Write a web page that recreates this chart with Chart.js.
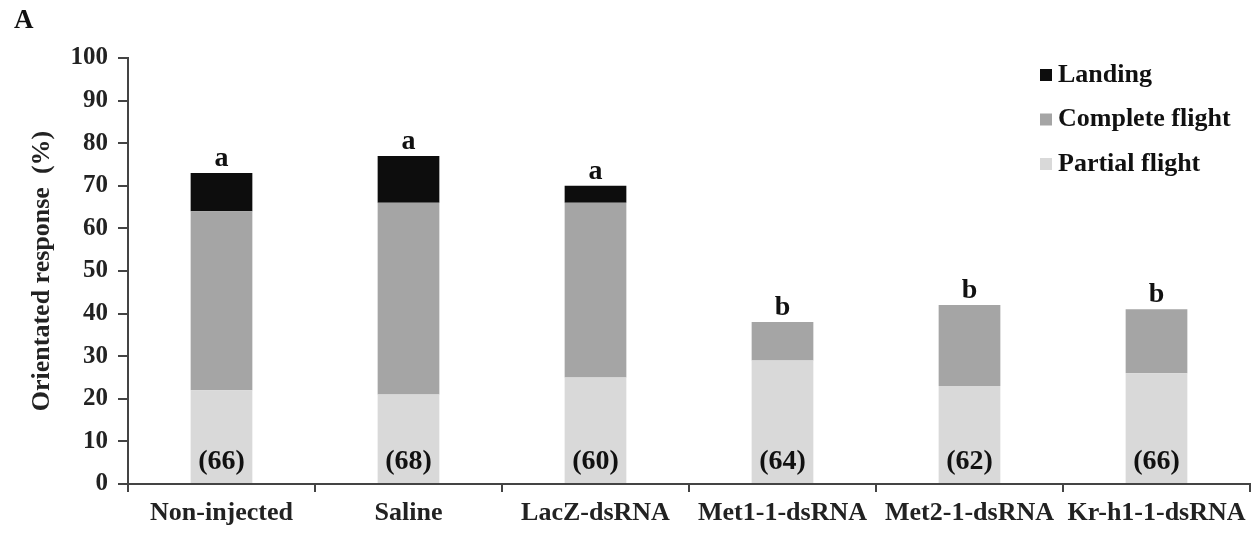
<!DOCTYPE html>
<html>
<head>
<meta charset="utf-8">
<script src="https://cdn.jsdelivr.net/npm/chart.js@4.4.1/dist/chart.umd.min.js"></script>
<style>
  body { margin: 0; background: #fff; }
</style>
</head>
<body>
<canvas id="myChart" width="1257" height="533"></canvas>
<script>
const groups = ["Non-injected", "Saline", "LacZ-dsRNA", "Met1-1-dsRNA", "Met2-1-dsRNA", "Kr-h1-1-dsRNA"];
const partial = [22, 21, 25, 29, 23, 26];
const complete = [42, 45, 41, 9, 19, 15];
const landing = [9, 11, 4, 0, 0, 0];
const nValues = [66, 68, 60, 64, 62, 66];
const letters = ["a", "a", "a", "b", "b", "b"];
const yTicks = [0, 10, 20, 30, 40, 50, 60, 70, 80, 90, 100];

const serif = '"Liberation Serif", "Times New Roman", serif';
const axisColor = "#444";

// letters, n numbers, legend and panel label
const extras = {
  id: "extras",
  afterDatasetsDraw(chart) {
    const ctx = chart.ctx;
    const x = chart.scales.x;
    const y = chart.scales.y;
    ctx.save();
    ctx.fillStyle = "#111";
    ctx.textAlign = "center";
    groups.forEach((g, i) => {
      const total = partial[i] + complete[i] + landing[i];
      ctx.font = "bold 28px " + serif;
      ctx.textBaseline = "alphabetic";
      ctx.fillText(letters[i], x.getPixelForValue(i), y.getPixelForValue(total) - 7);
      ctx.textBaseline = "middle";
      ctx.fillText("(" + nValues[i] + ")", x.getPixelForValue(i), y.getPixelForValue(0) - 22);
    });

    // legend, top to bottom reversed
    const ds = chart.data.datasets.slice().reverse();
    ctx.font = "bold 26px " + serif;
    ctx.textAlign = "left";
    ctx.textBaseline = "middle";
    ds.forEach((d, k) => {
      const cy = 75 + k * 44.5;
      ctx.fillStyle = d.backgroundColor;
      ctx.fillRect(1040, cy - 6, 12, 12);
      ctx.fillStyle = "#111";
      ctx.fillText(d.label, 1058, cy);
    });

    ctx.font = "bold 27px " + serif;
    ctx.textBaseline = "alphabetic";
    ctx.fillText("A", 14, 28);
    ctx.restore();
  }
};

new Chart("myChart", {
  type: "bar",
  data: {
    labels: groups,
    datasets: [
      { label: "Partial flight", data: partial, backgroundColor: "#d9d9d9" },
      { label: "Complete flight", data: complete, backgroundColor: "#a5a5a5" },
      { label: "Landing", data: landing, backgroundColor: "#0d0d0d" }
    ]
  },
  options: {
    responsive: false,
    animation: false,
    categoryPercentage: 1,
    barPercentage: 0.33,
    layout: { padding: { top: 58, right: 7, bottom: 0, left: 0 } },
    plugins: {
      legend: { display: false },
      tooltip: { enabled: false }
    },
    scales: {
      x: {
        stacked: true,
        grid: { drawOnChartArea: false, tickLength: 8, color: axisColor, lineWidth: 2 },
        border: { color: axisColor, width: 2 },
        ticks: {
          color: "#222",
          padding: 6,
          maxRotation: 0,
          autoSkip: false,
          font: { family: serif, size: 26, weight: "bold" }
        },
        afterFit(scale) { scale.height = 49; }
      },
      y: {
        stacked: true,
        min: 0,
        max: 100,
        afterBuildTicks(scale) { scale.ticks = yTicks.map(v => ({ value: v })); },
        grid: { drawOnChartArea: false, tickLength: 10, color: axisColor, lineWidth: 2 },
        border: { color: axisColor, width: 2 },
        ticks: {
          color: "#222",
          padding: 10,
          font: { family: serif, size: 25, weight: "bold" }
        },
        title: {
          display: true,
          text: "Orientated response  (%)",
          color: "#222",
          padding: { top: 27, bottom: 0 },
          font: { family: serif, size: 26, weight: "bold" }
        },
        afterFit(scale) { scale.width = 128; }
      }
    }
  },
  plugins: [extras]
});
</script>
</body>
</html>
